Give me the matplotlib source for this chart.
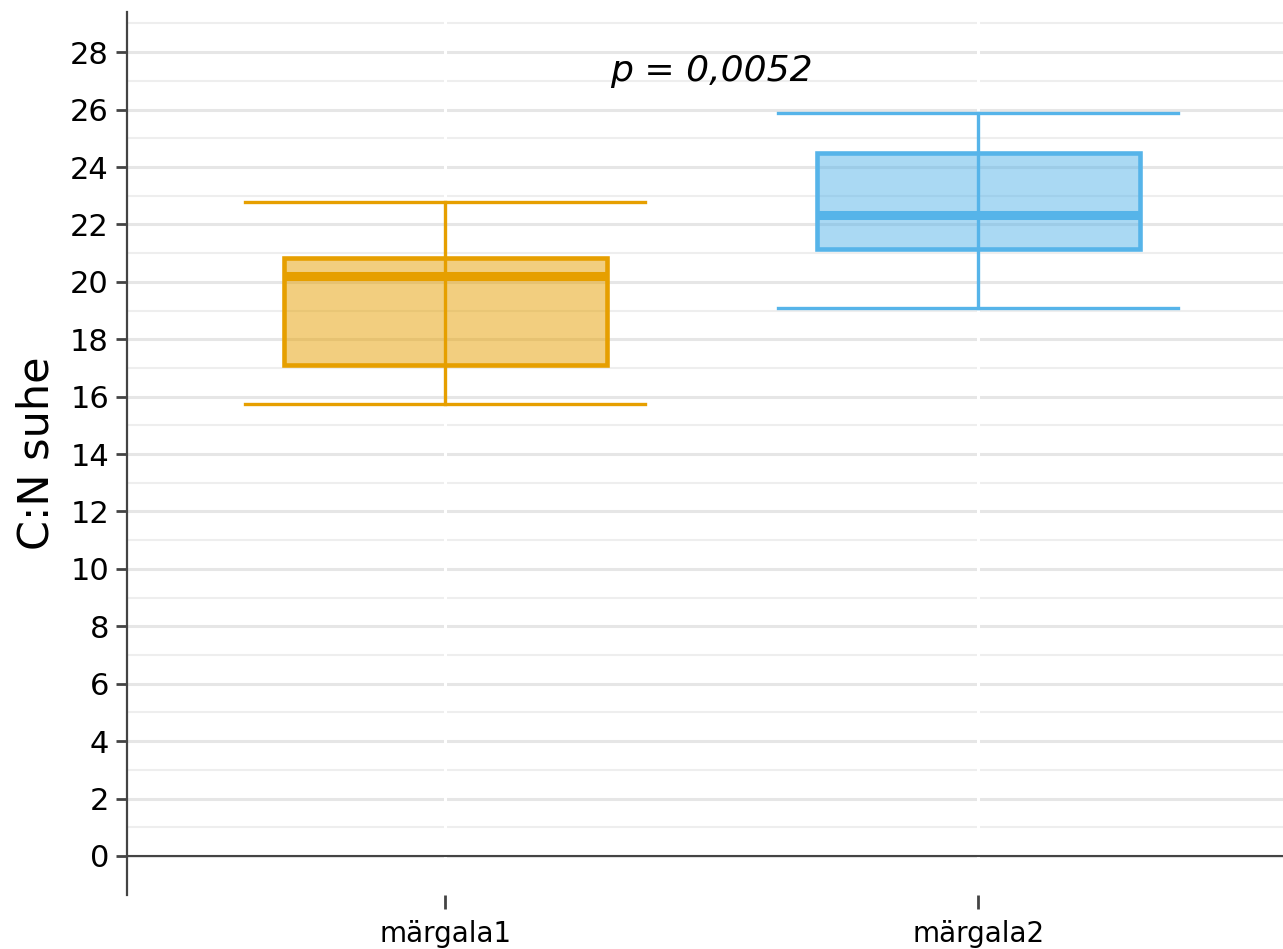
import numpy as np
import matplotlib.pyplot as plt
from matplotlib.patches import Rectangle

#Box statistics for each site (C:N ratio)
sites = ['märgala1', 'märgala2']
lower_whisker = [15.74, 19.09]
q1 = [17.10, 21.14]
median = [20.20, 22.33]
q3 = [20.83, 24.49]
upper_whisker = [22.78, 25.88]
colors = ['#E69F00', '#56B4E9']
p_text = 'p = 0,0052'

fig = plt.figure(figsize=(12.83, 9.49), dpi=100)
ax = fig.add_axes([127/1283, 1 - 895/949, 1 - 127/1283, (895 - 12)/949])

x = np.arange(len(sites))
box_half = 0.303
cap_half = 0.375

#Horizontal grid: major every 2, minor every 1
for y in range(0, 30):
    if y % 2 == 0:
        ax.axhline(y, color='#e6e6e6', lw=2.2, zorder=0)
    else:
        ax.axhline(y, color='#eeeeee', lw=1.5, zorder=0)
#White vertical lines at the categories
for xi in x:
    ax.axvline(xi, color='white', lw=2.2, zorder=0.5)
#Zero line
ax.axhline(0, color='#444444', lw=1.5, zorder=1)

for i in range(len(sites)):
    c = colors[i]
    #Whisker line through the box and the caps
    ax.plot([x[i], x[i]], [lower_whisker[i], upper_whisker[i]], color=c, lw=2.4, zorder=2)
    ax.plot([x[i] - cap_half, x[i] + cap_half], [lower_whisker[i]] * 2, color=c, lw=2.4, zorder=2)
    ax.plot([x[i] - cap_half, x[i] + cap_half], [upper_whisker[i]] * 2, color=c, lw=2.4, zorder=2)
    box = Rectangle((x[i] - box_half, q1[i]), 2 * box_half, q3[i] - q1[i],
                    facecolor=c, alpha=0.5, edgecolor='none', zorder=3)
    ax.add_patch(box)
    edge = Rectangle((x[i] - box_half, q1[i]), 2 * box_half, q3[i] - q1[i],
                     facecolor='none', edgecolor=c, lw=3.3, zorder=4)
    ax.add_patch(edge)
    ax.plot([x[i] - box_half, x[i] + box_half], [median[i]] * 2, color=c, lw=6.5, zorder=4,
            solid_capstyle='butt')

ax.text(0.5, 27.34, p_text, style='italic', fontsize=26, ha='center', va='center', color='black')

ax.set_xlim(-0.597, 1.572)
ax.set_ylim(-1.36, 29.4)
ax.set_xticks(x)
ax.set_xticklabels(sites, fontsize=20)
ax.set_yticks(np.arange(0, 29, 2))
ax.tick_params(axis='y', labelsize=22, length=8, width=2, color='#444444', pad=5)
ax.tick_params(axis='x', length=10, width=2, color='#444444', pad=8)
ax.set_ylabel('C:N suhe', fontsize=31, labelpad=9)

for side in ['top', 'right', 'bottom']:
    ax.spines[side].set_visible(False)
ax.spines['left'].set_color('#444444')
ax.spines['left'].set_linewidth(1.6)

fig.savefig('out.png', dpi=100)
